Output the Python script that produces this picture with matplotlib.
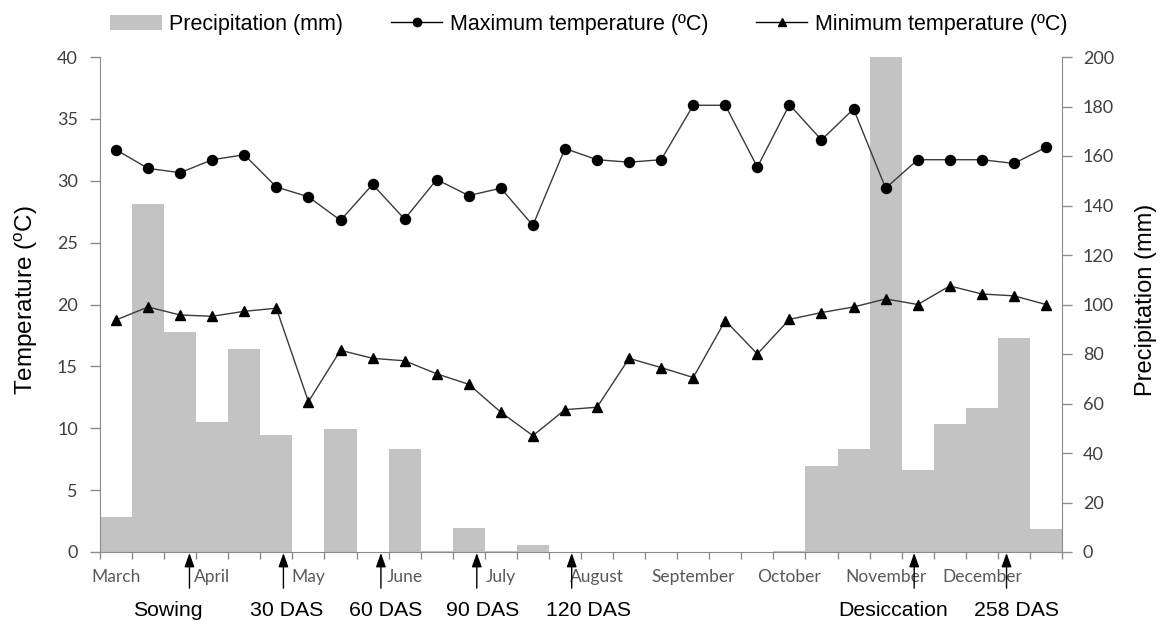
import matplotlib
matplotlib.use("Agg")
import matplotlib.pyplot as plt
import numpy as np
from matplotlib.patches import Patch
from matplotlib.lines import Line2D

# ten-day periods, March to December
months = ["March", "April", "May", "June", "July", "August",
          "September", "October", "November", "December"]
precip = [14.3, 140.5, 89, 52.4, 82.1, 47.1, 0, 49.8, 0, 41.7,
          0.5, 9.8, 0.5, 2.8, 0, 0, 0, 0, 0, 0,
          0, 0.5, 34.9, 41.7, 200, 33.3, 51.8, 58.3, 86.3, 9.3]
tmax = [32.5, 31.0, 30.65, 31.7, 32.1, 29.5, 28.7, 26.8, 29.7, 26.9,
        30.1, 28.8, 29.4, 26.4, 32.6, 31.7, 31.5, 31.7, 36.1, 36.1,
        31.1, 36.15, 33.3, 35.8, 29.4, 31.7, 31.7, 31.7, 31.4, 32.7]
tmin = [18.75, 19.8, 19.15, 19.05, 19.45, 19.7, 12.15, 16.3, 15.65, 15.45,
        14.4, 13.55, 11.3, 9.4, 11.5, 11.7, 15.65, 14.9, 14.1, 18.7,
        16.0, 18.8, 19.35, 19.8, 20.45, 20.0, 21.5, 20.85, 20.7, 20.0]
events = ["Sowing", "30 DAS", "60 DAS", "90 DAS", "120 DAS", "Desiccation", "258 DAS"]
event_pos = [2.29, 5.22, 8.26, 11.25, 14.21, 24.89, 27.77]
event_label_pos = [1.62, 5.33, 8.42, 11.44, 14.72, 24.23, 28.09]

plt.rcParams["font.family"] = ["Liberation Sans", "DejaVu Sans"]
plt.rcParams["mathtext.default"] = "regular"

axis_grey = "#8c8c8c"
bar_grey = "#c3c3c3"

fig = plt.figure(figsize=(11.59, 6.21), dpi=100)
ax = fig.add_axes([100 / 1159, 1 - 552 / 621, 962 / 1159, 495 / 621])
ax2 = ax.twinx()

x = np.arange(len(precip))
ax2.bar(x, precip, width=1.0, color=bar_grey, linewidth=0)
ax2.set_ylim(0, 200)
ax2.set_yticks(np.arange(0, 201, 20))

ax.plot(x, tmax, color="#3a3a3a", linewidth=1.0, marker="o", markersize=7.2,
        markerfacecolor="black", markeredgecolor="black")
ax.plot(x, tmin, color="#3a3a3a", linewidth=1.0, marker="^", markersize=7.5,
        markerfacecolor="black", markeredgecolor="black")
ax.set_ylim(0, 40)
ax.set_yticks(np.arange(0, 41, 5))
ax.set_xlim(-0.5, len(precip) - 0.5)

ax.set_zorder(ax2.get_zorder() + 1)
ax.patch.set_visible(False)

# x axis: ticks at period boundaries, month names at first period of each month
ax.set_xticks(np.arange(0, len(precip), 3))
ax.set_xticklabels(months, fontfamily="Lato", fontsize=12.5, color="#595959")
ax.set_xticks(np.arange(-0.5, len(precip) + 0.5, 1), minor=True)
ax.tick_params(axis="x", which="major", length=0, pad=12)
ax.tick_params(axis="x", which="minor", length=5, width=1, color=axis_grey, direction="out")

ax.tick_params(axis="y", length=7, width=1, color=axis_grey, pad=9,
               labelsize=13, labelcolor="#404040")
ax2.tick_params(axis="y", length=7, width=1, color=axis_grey, pad=8,
                labelsize=13, labelcolor="#404040")
for lab in ax.get_yticklabels() + ax2.get_yticklabels():
    lab.set_fontfamily("Lato")

for a in (ax, ax2):
    a.spines["top"].set_visible(False)
    for s in ("left", "right", "bottom"):
        a.spines[s].set_color(axis_grey)
ax.spines["right"].set_visible(False)
ax2.spines["left"].set_visible(False)
ax2.spines["bottom"].set_visible(False)

ax.set_ylabel("Temperature ($^{o}$C)", fontsize=17.5)
ax.yaxis.set_label_coords(-0.062, 0.51)
ax2.set_ylabel("Precipitation (mm)", fontsize=17)
ax2.yaxis.set_label_coords(1.076, 0.51)

# event arrows below the axis
trans = ax.get_xaxis_transform()
for p in event_pos:
    ax.annotate("", xy=(p, -0.002), xycoords=trans, xytext=(p, -0.073), textcoords=trans,
                arrowprops=dict(arrowstyle="-|>,head_length=0.7,head_width=0.25",
                                color="black", lw=1.0, mutation_scale=12,
                                shrinkA=0, shrinkB=0),
                annotation_clip=False)
for name, p in zip(events, event_label_pos):
    ax.text(p, -0.129, name, transform=trans, ha="center", va="baseline",
            fontsize=15.3, color="black")

handles = [Patch(facecolor=bar_grey, edgecolor="none"),
           Line2D([], [], color="black", linewidth=1.0, marker="o", markersize=6),
           Line2D([], [], color="black", linewidth=1.0, marker="^", markersize=6)]
labels = ["Precipitation (mm)", "Maximum temperature (\u00baC)", "Minimum temperature (\u00baC)"]
fig.legend(handles, labels, loc="center", bbox_to_anchor=(0.508, 0.961), ncol=3,
           frameon=False, fontsize=15.5, handlelength=2.4, handletextpad=0.35,
           columnspacing=2.2, numpoints=1)

fig.savefig("out.png", dpi=100)
